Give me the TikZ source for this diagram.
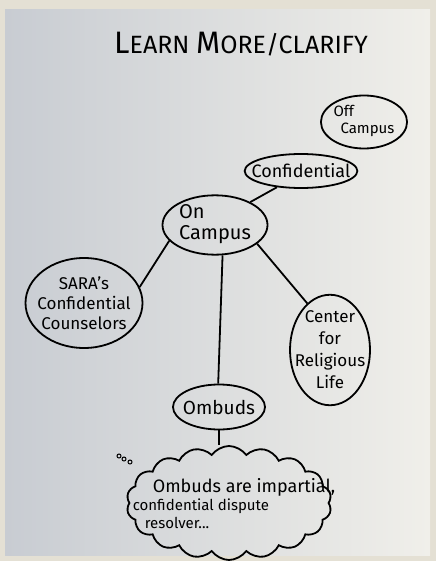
\documentclass[tikz,border=0pt]{standalone}
\usepackage{fontspec}
\setmainfont{Fira Sans}
\usetikzlibrary{shapes.geometric,shapes.symbols}

\definecolor{deskbg}{RGB}{228,224,212}
\definecolor{paperL}{RGB}{200,204,210}
\definecolor{paperR}{RGB}{240,239,234}
\newcommand{\fsz}[2]{\fontsize{#1}{#2}\selectfont}

\begin{document}
\begin{tikzpicture}[
  x=1pt, y=-1pt,
  bubble/.style={draw, ellipse, line width=1.8pt, inner sep=0pt, align=center},
  link/.style={line width=1.8pt},
  dot/.style={draw, circle, line width=1pt, inner sep=0pt, minimum size=4pt}
]
% paper and desk
\fill[deskbg] (0,0) rectangle (436,561);
\shade[left color=paperL, right color=paperR] (5,10) rectangle (430,555);
\useasboundingbox (0,0) rectangle (436,561);

\node[font=\fsz{31}{34}] (title) at (241,44) {L\fsz{25}{34}EARN \fsz{31}{34}M\fsz{25}{34}ORE/CLARIFY};

\node[bubble, minimum width=78, minimum height=53, font=\fsz{15}{17}] (off) at (364,122) {\begin{tabular}{@{}l@{}}Off\\ \hspace*{7pt}Campus\end{tabular}};
\node[bubble, minimum width=112, minimum height=34, inner xsep=-9.5pt, font=\fsz{18}{20}] (conf) at (301,171) {Confidential};
\node[bubble, minimum width=105, minimum height=56, font=\fsz{20}{21}] (oncamp) at (215,225) {\begin{tabular}{@{}l@{}}On\\ Campus\end{tabular}};
\node[bubble, minimum width=117, minimum height=90, inner xsep=-5.5pt, font=\fsz{17}{20}] (sara) at (84,303) {SARA's\\ Confidential\\ Counselors};
\node[bubble, minimum width=80, minimum height=108, inner xsep=-7.5pt, font=\fsz{17}{22}] (crl) at (330,350) {Center\\ for\\ Religious\\ Life};
\node[bubble, minimum width=92, minimum height=45, inner xsep=-3.5pt, font=\fsz{19}{22}] (ombuds) at (219,407) {Ombuds};
\node[cloud, draw, line width=1.8pt, cloud puffs=18, cloud puff arc=110, cloud ignores aspect,
      minimum width=205, minimum height=114, inner sep=0pt] (note) at (229,503) {};
\node[align=left, font=\fsz{15}{18}] (notetext) at (234,504)
  {\hspace*{20pt}{\fsz{18}{18}Ombuds are impartial,}\\ confidential dispute\\ \hspace*{12pt}resolver...};
\node[dot] (d1) at (119,456) {};
\node[dot] (d2) at (124,459) {};
\node[dot] (d3) at (130,462) {};

\draw[link] (conf.214) -- (oncamp.33);
\draw[link] (oncamp.199) -- (sara.16);
\draw[link] (oncamp.336) -- (crl.116);
\draw[link] (oncamp.284) -- (ombuds.92);
\draw[link] (ombuds.south) -- (ombuds.south |- note.north);
\end{tikzpicture}
\end{document}
